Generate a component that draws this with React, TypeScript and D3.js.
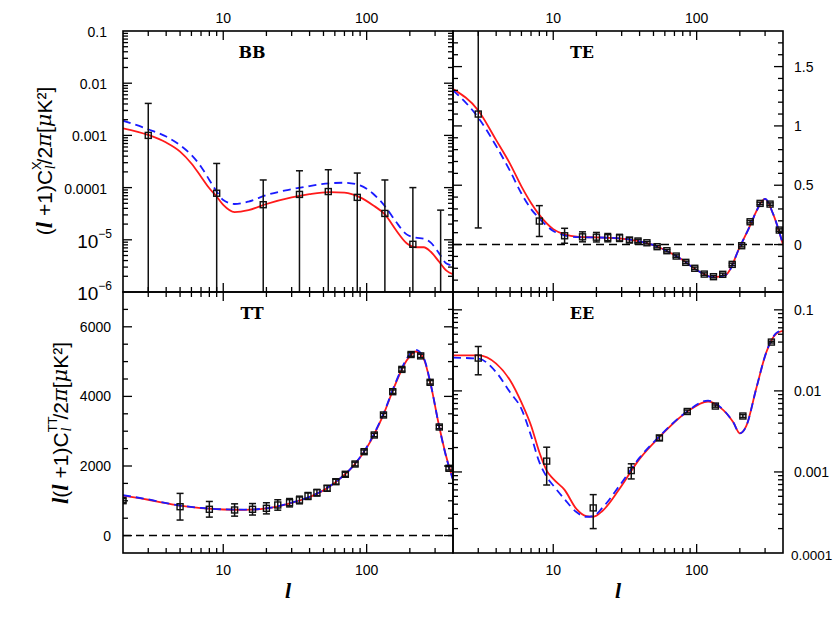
import React, { useEffect, useRef } from 'react';
import * as d3 from 'd3';

// multipole range shared by all four panels
const lDomain = [2, 400];
const xTickLabels = [10, 100];

// ---- BB (log) ----
const bbL = [3, 9, 19, 34, 54, 86, 134, 210, 328];
const bbVal = [1.0e-3, 7.8e-5, 4.7e-5, 7.4e-5, 8.4e-5, 6.5e-5, 3.2e-5, 8.2e-6, 6e-7];
const bbHi = [4.1e-3, 2.9e-4, 1.4e-4, 2.1e-4, 2.2e-4, 1.9e-4, 1.4e-4, 1.0e-4, 3.7e-5];
const bbLo = [0, 0, 0, 0, 0, 0, 0, 0, 0];
const bbCurveL = [2, 3, 4, 5, 6, 7, 8, 9, 10, 12, 15, 20, 30, 40, 55, 70, 90, 110, 135, 160, 190, 220, 250, 280, 320, 360, 400];
const bbRed = [1.37e-3, 1.02e-3, 7.3e-4, 4.9e-4, 2.9e-4, 1.62e-4, 9.7e-5, 6.7e-5, 4.65e-5, 3.4e-5, 3.7e-5, 4.85e-5, 6.5e-5, 7.5e-5, 8.2e-5, 8.0e-5, 6.5e-5, 4.65e-5, 3.0e-5, 1.54e-5, 8.6e-6, 7.2e-6, 7.2e-6, 5.9e-6, 3.8e-6, 2.56e-6, 2.2e-6];
const bbBlue = [1.91e-3, 1.31e-3, 9.5e-4, 6.5e-4, 4.2e-4, 2.52e-4, 1.4e-4, 8.4e-5, 5.8e-5, 4.85e-5, 5.4e-5, 7.2e-5, 9.3e-5, 1.07e-4, 1.21e-4, 1.24e-4, 1.1e-4, 7.8e-5, 4.3e-5, 2.22e-5, 1.27e-5, 1.1e-5, 1.05e-5, 8.8e-6, 5.5e-6, 3.5e-6, 3.2e-6];
const bbTickLabels = ['0.1', '0.01', '0.001', '0.0001', '10|5', '10|6'];
const bbTickValues = [0.1, 0.01, 0.001, 0.0001, 1e-5, 1e-6];

// ---- TE (linear) ----
const teL = [3, 8, 12, 16, 20, 24, 29, 34, 39, 45, 53, 62, 72, 84, 97, 113, 131, 152, 177, 206, 236, 277, 325, 377];
const teVal = [1.10, 0.198, 0.074, 0.065, 0.062, 0.058, 0.056, 0.038, 0.030, 0.015, -0.018, -0.052, -0.097, -0.15, -0.20, -0.249, -0.271, -0.251, -0.167, -0.01, 0.192, 0.347, 0.341, 0.122];
const teErr = [0.96, 0.13, 0.063, 0.042, 0.04, 0.035, 0.03, 0.02, 0.015, 0.01, 0.01, 0.01, 0.01, 0.01, 0.01, 0.01, 0.01, 0.01, 0.01, 0.01, 0.01, 0.01, 0.01, 0.01];
const teCurveL = [2, 3, 4, 5, 6, 7, 8, 10, 12, 15, 20, 30, 40, 50, 60, 80, 100, 130, 160, 200, 240, 260, 300, 340, 400];
const teRed = [1.31, 1.13, 0.88, 0.68, 0.49, 0.35, 0.25, 0.13, 0.085, 0.065, 0.06, 0.05, 0.027, -0.005, -0.046, -0.131, -0.215, -0.275, -0.255, -0.02, 0.18, 0.277, 0.385, 0.263, 0.0];
const teBlue = [1.30, 1.07, 0.83, 0.62, 0.43, 0.30, 0.22, 0.115, 0.078, 0.062, 0.06, 0.05, 0.027, -0.005, -0.046, -0.131, -0.215, -0.275, -0.255, -0.02, 0.18, 0.277, 0.385, 0.263, 0.0];
const teTickLabels = ['1.5', '1', '0.5', '0'];
const teTickValues = [1.5, 1, 0.5, 0];

// ---- TT (linear) ----
const ttL = [2, 5, 8, 12, 16, 20, 24, 29, 34, 39, 45, 53, 61, 71, 83, 96, 113, 131, 152, 176, 204, 238, 277, 321, 375];
const ttVal = [1003, 830, 756, 736, 756, 784, 880, 945, 1023, 1138, 1233, 1359, 1549, 1762, 2057, 2411, 2891, 3466, 4135, 4776, 5204, 5164, 4405, 3121, 1934];
const ttErr = [60, 383, 225, 177, 165, 160, 150, 120, 110, 100, 95, 80, 70, 60, 55, 50, 50, 50, 50, 50, 50, 50, 50, 50, 50];
const ttCurveL = [2, 3, 4, 5, 7, 10, 14, 20, 30, 40, 50, 60, 80, 100, 130, 160, 190, 220, 250, 280, 320, 360, 400];
const ttRed = [1150, 1030, 930, 860, 790, 750, 740, 780, 940, 1110, 1300, 1520, 1980, 2520, 3450, 4390, 5030, 5290, 5080, 4330, 3150, 2250, 1620];
const ttBlue = [1160, 1040, 935, 865, 795, 755, 745, 785, 945, 1115, 1305, 1525, 1990, 2540, 3470, 4420, 5080, 5340, 5110, 4340, 3140, 2230, 1600];
const ttTickLabels = ['6000', '4000', '2000', '0'];
const ttTickValues = [6000, 4000, 2000, 0];

// ---- EE (log) ----
const eeL = [3, 9, 19, 35, 55, 86, 135, 210, 332];
const eeVal = [0.0254, 1.36e-3, 3.6e-4, 1.04e-3, 2.63e-3, 5.57e-3, 6.5e-3, 4.9e-3, 0.040];
const eeHi = [0.0353, 2.02e-3, 5.25e-4, 1.26e-3, 2.8e-3, 5.8e-3, 6.7e-3, 5.1e-3, 0.041];
const eeLo = [0.0158, 6.9e-4, 2.0e-4, 8.2e-4, 2.45e-3, 5.35e-3, 6.3e-3, 4.7e-3, 0.039];
const eeCurveL = [2, 3, 4, 5, 6, 7, 8, 9, 10, 12, 14.5, 17, 19, 22, 29, 40, 55, 85, 120, 145, 180, 200, 222, 260, 306, 360, 400];
const eeRed = [0.0274, 0.0274, 0.0217, 0.0135, 7.2e-3, 3.74e-3, 1.75e-3, 1.04e-3, 8.2e-4, 6.0e-4, 3.5e-4, 2.85e-4, 2.8e-4, 3.3e-4, 6.2e-4, 1.45e-3, 2.7e-3, 5.46e-3, 7.4e-3, 6.3e-3, 4.1e-3, 3.0e-3, 3.7e-3, 0.0106, 0.030, 0.051, 0.055];
const eeBlue = [0.0257, 0.025, 0.017, 9.6e-3, 6.0e-3, 2.8e-3, 1.32e-3, 8.7e-4, 6.8e-4, 4.6e-4, 3.2e-4, 2.8e-4, 2.85e-4, 3.6e-4, 6.8e-4, 1.5e-3, 2.75e-3, 5.5e-3, 7.6e-3, 6.4e-3, 4.1e-3, 3.0e-3, 3.7e-3, 0.0106, 0.030, 0.052, 0.056];
const eeTickLabels = ['0.1', '0.01', '0.001', '0.0001'];
const eeTickValues = [0.1, 0.01, 0.001, 0.0001];

const RED = '#ff1a1a';
const BLUE = '#1a1aff';
const SANS = '"Liberation Sans", Arial, sans-serif';
const SERIF = '"DejaVu Serif", "Liberation Serif", serif';

const logTicks = (lo, hi) => {
  const out = [];
  for (let e = Math.floor(Math.log10(lo)) - 1; e <= Math.ceil(Math.log10(hi)); e++) {
    for (let m = 1; m < 10; m++) {
      const v = m * Math.pow(10, e);
      if (v > lo * 1.001 && v < hi * 0.999) out.push({ v, major: m === 1 });
    }
  }
  return out;
};

const linTicks = (lo, hi, step, majorStep) => {
  const out = [];
  const n0 = Math.ceil(lo / step), n1 = Math.floor(hi / step);
  for (let i = n0; i <= n1; i++) {
    const v = i * step;
    if (v <= lo + step * 0.01 || v >= hi - step * 0.01) continue;
    out.push({ v, major: Math.abs(v / majorStep - Math.round(v / majorStep)) < 1e-6 });
  }
  return out;
};

const App = () => {
  const svgRef = useRef(null);

  useEffect(() => {
    if (!svgRef.current) return;
    const svg = d3.select(svgRef.current);
    svg.selectAll('*').remove();

    const X0 = 123, XM = 453, X1 = 783;
    const Y0 = 31, YM = 292, Y1 = 553;

    const xLeft = d3.scaleLog().domain(lDomain).range([X0, XM]);
    const xRight = d3.scaleLog().domain(lDomain).range([XM, X1]);

    const panels = [
      {
        id: 'bb', title: 'BB', x: xLeft, box: [X0, Y0, XM, YM],
        y: d3.scaleLog().domain([1e-6, 0.1]).range([YM, Y0]),
        yTicks: logTicks(1e-6, 0.1),
        pts: bbL.map((l, i) => ({ l, v: bbVal[i], lo: bbLo[i], hi: bbHi[i] })),
        red: bbCurveL.map((l, i) => [l, bbRed[i]]),
        blue: bbCurveL.map((l, i) => [l, bbBlue[i]]),
        zero: false, topLabels: true, bottomLabels: false,
      },
      {
        id: 'te', title: 'TE', x: xRight, box: [XM, Y0, X1, YM],
        y: d3.scaleLinear().domain([-0.4, 1.8]).range([YM, Y0]),
        yTicks: linTicks(-0.4, 1.8, 0.1, 0.5),
        pts: teL.map((l, i) => ({ l, v: teVal[i], lo: teVal[i] - teErr[i], hi: teVal[i] + teErr[i] })),
        red: teCurveL.map((l, i) => [l, teRed[i]]),
        blue: teCurveL.map((l, i) => [l, teBlue[i]]),
        zero: true, topLabels: true, bottomLabels: false,
      },
      {
        id: 'tt', title: 'TT', x: xLeft, box: [X0, YM, XM, Y1],
        y: d3.scaleLinear().domain([-500, 7000]).range([Y1, YM]),
        yTicks: linTicks(-500, 7000, 500, 2000),
        pts: ttL.map((l, i) => ({ l, v: ttVal[i], lo: ttVal[i] - ttErr[i], hi: ttVal[i] + ttErr[i] })),
        red: ttCurveL.map((l, i) => [l, ttRed[i]]),
        blue: ttCurveL.map((l, i) => [l, ttBlue[i]]),
        zero: true, topLabels: false, bottomLabels: true,
      },
      {
        id: 'ee', title: 'EE', x: xRight, box: [XM, YM, X1, Y1],
        y: d3.scaleLog().domain([1e-4, 0.166]).range([Y1, YM]),
        yTicks: logTicks(1e-4, 0.166),
        pts: eeL.map((l, i) => ({ l, v: eeVal[i], lo: eeLo[i], hi: eeHi[i] })),
        red: eeCurveL.map((l, i) => [l, eeRed[i]]),
        blue: eeCurveL.map((l, i) => [l, eeBlue[i]]),
        zero: false, topLabels: false, bottomLabels: true,
      },
    ];

    const xTicks = logTicks(lDomain[0], lDomain[1]);

    panels.forEach(p => {
      const [bx0, by0, bx1, by1] = p.box;
      const g = svg.append('g');

      // clip to the panel frame
      g.append('clipPath').attr('id', `clip-${p.id}`)
        .append('rect').attr('x', bx0).attr('y', by0).attr('width', bx1 - bx0).attr('height', by1 - by0);
      const inner = g.append('g').attr('clip-path', `url(#clip-${p.id})`);

      const yOf = v => (v <= 0 && p.y.base ? by1 + 5 : p.y(v));

      if (p.zero) {
        inner.append('line')
          .attr('x1', bx0).attr('x2', bx1).attr('y1', p.y(0)).attr('y2', p.y(0))
          .attr('stroke', '#000').attr('stroke-width', 1.5).attr('stroke-dasharray', '8,5');
      }

      const line = d3.line().x(d => p.x(d[0])).y(d => p.y(d[1])).curve(d3.curveMonotoneX);
      inner.append('path').attr('d', line(p.red)).attr('fill', 'none')
        .attr('stroke', RED).attr('stroke-width', 1.8);
      inner.append('path').attr('d', line(p.blue)).attr('fill', 'none')
        .attr('stroke', BLUE).attr('stroke-width', 1.8).attr('stroke-dasharray', '8,5');

      // error bars
      p.pts.forEach(d => {
        const cx = p.x(d.l);
        const yTop = yOf(d.hi), yBot = yOf(d.lo);
        inner.append('line').attr('x1', cx).attr('x2', cx).attr('y1', yTop).attr('y2', yBot)
          .attr('stroke', '#111').attr('stroke-width', 1.5);
        [yTop, yBot].forEach(yy => {
          inner.append('line').attr('x1', cx - 3.5).attr('x2', cx + 3.5).attr('y1', yy).attr('y2', yy)
            .attr('stroke', '#111').attr('stroke-width', 1.5);
        });
        inner.append('rect').attr('x', cx - 3).attr('y', yOf(d.v) - 3).attr('width', 6).attr('height', 6)
          .attr('fill', 'none').attr('stroke', '#111').attr('stroke-width', 1.4);
      });

      // frame
      g.append('rect').attr('x', bx0).attr('y', by0).attr('width', bx1 - bx0).attr('height', by1 - by0)
        .attr('fill', 'none').attr('stroke', '#000').attr('stroke-width', 1.6);

      // ticks on all four sides, pointing inwards
      const ticks = g.append('g').attr('stroke', '#000').attr('stroke-width', 1.3);
      xTicks.forEach(t => {
        const xx = p.x(t.v), len = t.major ? 9 : 5;
        ticks.append('line').attr('x1', xx).attr('x2', xx).attr('y1', by0).attr('y2', by0 + len);
        ticks.append('line').attr('x1', xx).attr('x2', xx).attr('y1', by1).attr('y2', by1 - len);
      });
      p.yTicks.forEach(t => {
        const yy = p.y(t.v), len = t.major ? 9 : 5;
        ticks.append('line').attr('x1', bx0).attr('x2', bx0 + len).attr('y1', yy).attr('y2', yy);
        ticks.append('line').attr('x1', bx1).attr('x2', bx1 - len).attr('y1', yy).attr('y2', yy);
      });

      // panel title
      g.append('text').attr('x', bx0 + 129).attr('y', by0 + 21)
        .attr('text-anchor', 'middle').attr('dominant-baseline', 'central')
        .attr('font-family', SERIF).attr('font-weight', 'bold').attr('font-size', 16).text(p.title);

      // x tick labels
      xTickLabels.forEach(v => {
        if (p.topLabels) {
          g.append('text').attr('x', p.x(v)).attr('y', by0 - 13).attr('text-anchor', 'middle')
            .attr('dominant-baseline', 'central').attr('font-family', SANS).attr('font-size', 14).text(v);
        }
        if (p.bottomLabels) {
          g.append('text').attr('x', p.x(v)).attr('y', by1 + 17).attr('text-anchor', 'middle')
            .attr('dominant-baseline', 'central').attr('font-family', SANS).attr('font-size', 14).text(v);
        }
      });
      if (p.bottomLabels) {
        g.append('text').attr('x', (bx0 + bx1) / 2).attr('y', by1 + 37).attr('text-anchor', 'middle')
          .attr('dominant-baseline', 'central').attr('font-family', '"Liberation Serif", serif')
          .attr('font-style', 'italic').attr('font-weight', 'bold').attr('font-size', 22).text('l');
      }
    });

    // y tick labels
    const bbY = panels[0].y, teY = panels[1].y, ttY = panels[2].y, eeY = panels[3].y;
    bbTickLabels.forEach((s, i) => {
      const yy = bbY(bbTickValues[i]) + 1;
      const t = svg.append('text').attr('x', 112).attr('y', yy).attr('text-anchor', 'end')
        .attr('dominant-baseline', 'central').attr('font-family', SANS);
      if (s.includes('|')) {
        const [base, ex] = s.split('|');
        t.append('tspan').attr('font-size', 19).text(base);
        t.append('tspan').attr('font-size', 12).attr('dy', -7).text('\u2212' + ex);
      } else {
        t.attr('x', 107).attr('font-size', 14).text(s);
      }
    });
    teTickLabels.forEach((s, i) => {
      svg.append('text').attr('x', 794).attr('y', teY(teTickValues[i])).attr('dominant-baseline', 'central')
        .attr('font-family', SANS).attr('font-size', 14).text(s);
    });
    ttTickLabels.forEach((s, i) => {
      svg.append('text').attr('x', 111).attr('y', ttY(ttTickValues[i])).attr('text-anchor', 'end')
        .attr('dominant-baseline', 'central').attr('font-family', SANS).attr('font-size', 14).text(s);
    });
    eeTickLabels.forEach((s, i) => {
      const last = i === eeTickLabels.length - 1;
      svg.append('text').attr('x', last ? 791 : 794).attr('y', eeY(eeTickValues[i]) + (last ? 2 : 0))
        .attr('dominant-baseline', 'central')
        .attr('font-family', SANS).attr('font-size', last ? 13.5 : 14).text(s);
    });

    // rotated y-axis titles
    const yTitle = (cx, cy, lead, sup) => {
      const t = svg.append('text').attr('transform', `translate(${cx},${cy}) rotate(-90)`)
        .attr('text-anchor', 'middle').attr('dominant-baseline', 'central')
        .attr('font-family', SANS).attr('font-size', 21);
      const ell = (size) => t.append('tspan').attr('font-family', '"Liberation Serif", serif')
        .attr('font-style', 'italic').attr('font-weight', 'bold').attr('font-size', size).text('l');
      if (lead) ell(23);
      t.append('tspan').text('(');
      ell(23);
      t.append('tspan').text(' +1)C');
      t.append('tspan').attr('font-size', 13).attr('dy', -8).text(sup);
      t.append('tspan').attr('font-family', '"Liberation Serif", serif').attr('font-style', 'italic')
        .attr('font-size', 14).attr('dx', sup.length > 1 ? -15 : -8).attr('dy', 14).text('l');
      t.append('tspan').attr('dx', sup.length > 1 ? 8 : 1).attr('dy', -6).text('/2');
      t.append('tspan').attr('font-family', SERIF).attr('font-style', 'italic').text('\u03c0');
      t.append('tspan').text('[');
      t.append('tspan').attr('font-family', SERIF).attr('font-style', 'italic').text('\u03bc');
      t.append('tspan').text('K\u00b2]');
    };
    yTitle(44, 161, false, 'X');
    yTitle(60, 423, true, 'TT');
  }, []);

  return (
    <svg ref={svgRef} width={833} height={623}
      style={{ position: 'absolute', left: 0, top: 0, background: '#fff' }} />
  );
};

export default App;
